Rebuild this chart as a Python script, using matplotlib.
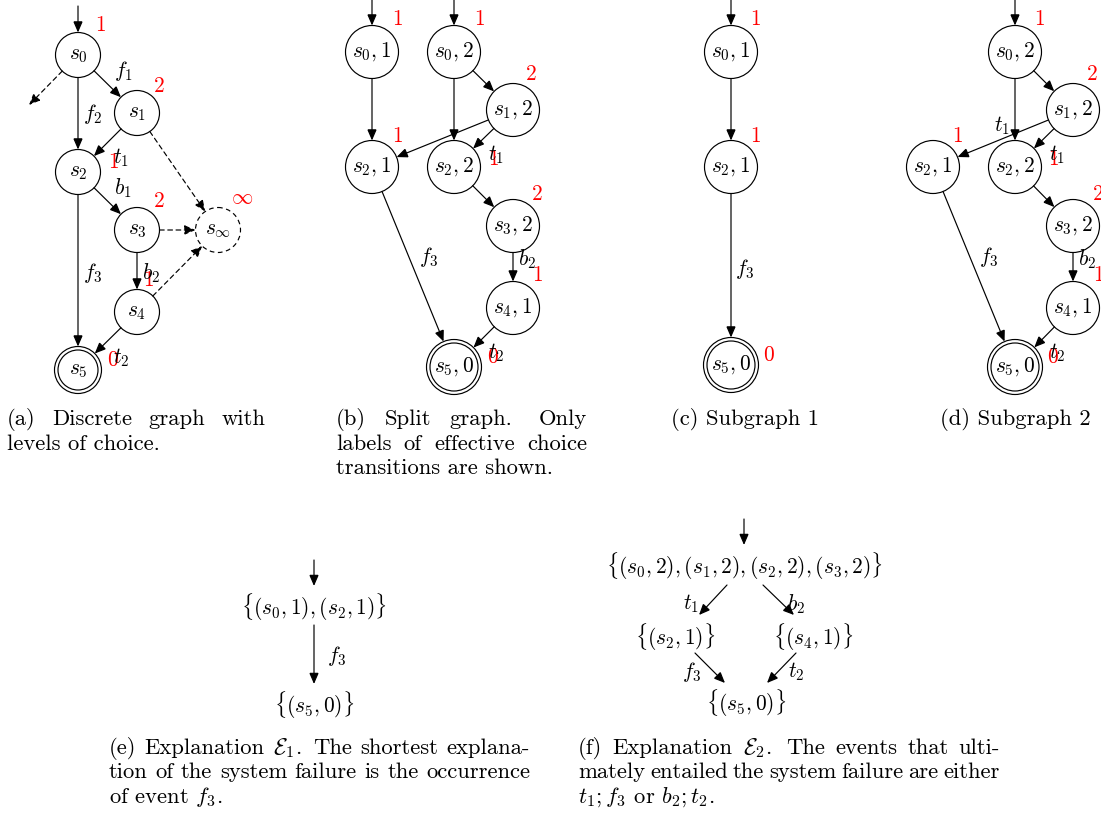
import matplotlib
matplotlib.use('Agg')
import matplotlib.pyplot as plt
from matplotlib.patches import Circle, FancyArrowPatch
import numpy as np

plt.rcParams['mathtext.fontset'] = 'cm'
plt.rcParams['font.family'] = ['cmr10', 'DejaVu Serif']
plt.rcParams['axes.unicode_minus'] = False

# ---------------- data ----------------
# (a) discrete graph
a_nodes = ['s0', 's1', 's2', 's3', 's4', 's5', 'sinf']
a_names = [r'$s_0$', r'$s_1$', r'$s_2$', r'$s_3$', r'$s_4$', r'$s_5$', r'$s_\infty$']
a_levels = ['1', '2', '1', '2', '1', '0', r'\infty']
a_edges = [('s0', 's1', 'f_1'), ('s0', 's2', 'f_2'), ('s1', 's2', 't_1'),
           ('s2', 's3', 'b_1'), ('s2', 's5', 'f_3'), ('s3', 's4', 'b_2'),
           ('s4', 's5', 't_2')]
a_dashed = [('s1', 'sinf'), ('s3', 'sinf'), ('s4', 'sinf')]

# (b) split graph
b_nodes = ['s01', 's02', 's12', 's21', 's22', 's32', 's41', 's50']
b_names = [r'$s_0,1$', r'$s_0,2$', r'$s_1,2$', r'$s_2,1$', r'$s_2,2$', r'$s_3,2$', r'$s_4,1$', r'$s_5,0$']
b_levels = ['1', '1', '2', '1', '1', '2', '1', '0']
b_edges = [('s01', 's21', ''), ('s02', 's22', ''), ('s02', 's12', ''), ('s12', 's21', ''),
           ('s12', 's22', 't_1'), ('s22', 's32', ''), ('s32', 's41', 'b_2'),
           ('s41', 's50', 't_2'), ('s21', 's50', 'f_3')]

# (c) subgraph 1
c_nodes = ['s01', 's21', 's50']
c_names = [r'$s_0,1$', r'$s_2,1$', r'$s_5,0$']
c_levels = ['1', '1', '0']
c_edges = [('s01', 's21', ''), ('s21', 's50', 'f_3')]

# (d) subgraph 2
d_nodes = ['s02', 's12', 's21', 's22', 's32', 's41', 's50']
d_names = [r'$s_0,2$', r'$s_1,2$', r'$s_2,1$', r'$s_2,2$', r'$s_3,2$', r'$s_4,1$', r'$s_5,0$']
d_levels = ['1', '2', '1', '1', '2', '1', '0']
d_edges = [('s02', 's22', ''), ('s02', 's12', ''), ('s12', 's21', 't_1'),
           ('s12', 's22', 't_1'), ('s22', 's32', ''), ('s32', 's41', 'b_2'),
           ('s41', 's50', 't_2'), ('s21', 's50', 'f_3')]

# (e), (f) explanations
e_sets = [r'$\{(s_0,1),(s_2,1)\}$', r'$\{(s_5,0)\}$']
e_events = ['f_3']
f_sets = [r'$\{(s_0,2),(s_1,2),(s_2,2),(s_3,2)\}$', r'$\{(s_2,1)\}$', r'$\{(s_4,1)\}$', r'$\{(s_5,0)\}$']
f_events = ['t_1', 'b_2', 'f_3', 't_2']

captions = {
    'a': [['(a)', 'Discrete', 'graph', 'with'], 'levels of choice.'],
    'b': [['(b)', 'Split', 'graph.', '', 'Only'], ['labels', 'of', 'effective', 'choice'], 'transitions are shown.'],
    'c': '(c) Subgraph 1',
    'd': '(d) Subgraph 2',
    'e': [['(e)', 'Explanation', r'$\mathcal{E}_1$.', '', 'The', 'shortest', 'explana-'],
          ['tion', 'of', 'the', 'system', 'failure', 'is', 'the', 'occurrence'],
          r'of event $f_3$.'],
    'f': [['(f)', 'Explanation', r'$\mathcal{E}_2$.', '', 'The', 'events', 'that', 'ulti-'],
          ['mately', 'entailed', 'the', 'system', 'failure', 'are', 'either'],
          r'$t_1; f_3$ or $b_2; t_2$.'],
}

# ---------------- layout ----------------
W, H = 1101, 815
fig = plt.figure(figsize=(W / 100, H / 100), dpi=100)
ax = fig.add_axes([0, 0, 1, 1])
ax.set_xlim(0, W)
ax.set_ylim(H, 0)
ax.axis('off')

FS = 15.4      # math / node text
FSC = 16.3     # caption text
LW = 0.85
RED = '#ff0000'


def arrow(p, q, dashed=False):
    a = FancyArrowPatch(p, q, arrowstyle='-|>,head_length=0.6,head_width=0.26',
                        mutation_scale=11, shrinkA=0, shrinkB=0, lw=LW, color='black',
                        linestyle=(0, (4, 3)) if dashed else '-', joinstyle='miter')
    ax.add_patch(a)


def node(c, r, label, final=False, dashed=False):
    ax.add_patch(Circle(c, r, fill=False, lw=LW, ec='black', linestyle=(0, (4, 3)) if dashed else '-'))
    if final:
        ax.add_patch(Circle(c, r - 3.5, fill=False, lw=LW, ec='black'))
    ax.text(c[0], c[1], label, fontsize=FS, ha='center', va='center')


def edge(pos, rad, u, v, dashed=False):
    p = np.array(pos[u], float)
    q = np.array(pos[v], float)
    d = (q - p) / np.linalg.norm(q - p)
    arrow(p + rad[u] * d, q - rad[v] * d, dashed)


def draw_graph(nodes, names, levels, edges, pos, r, final, lvl_pos, lbl_pos, initials):
    rad = {}
    for n in nodes:
        rad[n] = r + (1 if n == final else 0)
    for n, nm in zip(nodes, names):
        node(pos[n], rad[n], nm, final=(n == final), dashed=(n == 'sinf'))
    for n, lv in zip(nodes, levels):
        ax.text(lvl_pos[n][0], lvl_pos[n][1], '$' + lv + '$', color=RED, fontsize=FS,
                ha='center', va='center')
    for (u, v, lab) in edges:
        edge(pos, rad, u, v)
        if lab:
            for lp in lbl_pos.get((u, v), []):
                ax.text(lp[0], lp[1], '$' + lab + '$', fontsize=FS, ha='center', va='center')
    for n, y0 in initials:
        x, y = pos[n]
        arrow((x, y0), (x, y - rad[n]))
    return rad


# (a)
a_pos = {'s0': (78, 55), 's1': (137, 113), 's2': (78, 172), 's3': (137, 230),
         's4': (137, 312), 's5': (78, 370), 'sinf': (218, 230)}
a_lvl = {'s0': (100, 25), 's1': (159, 86), 's2': (113, 162), 's3': (159, 201),
         's4': (148, 280), 's5': (113, 360), 'sinf': (242, 198)}
a_lbl = {('s0', 's1'): [(123, 71)], ('s0', 's2'): [(93, 114)], ('s1', 's2'): [(121, 158)],
         ('s2', 's3'): [(123, 188)], ('s2', 's5'): [(93, 273)], ('s3', 's4'): [(151, 273)],
         ('s4', 's5'): [(121, 358)]}
rad_a = draw_graph(a_nodes, a_names, a_levels, a_edges, a_pos, 22.5, 's5', a_lvl, a_lbl, [('s0', 6)])
for u, v in a_dashed:
    edge(a_pos, rad_a, u, v, dashed=True)
# dangling dashed arrow from s0
p0 = np.array(a_pos['s0'], float)
tgt = np.array((29, 105), float)
dd = (tgt - p0) / np.linalg.norm(tgt - p0)
arrow(p0 + 22.5 * dd, tgt, dashed=True)

# (b)
b_pos = {'s01': (372, 52), 's02': (454, 52), 's12': (513, 110), 's21': (372, 167),
         's22': (454, 167), 's32': (513, 226), 's41': (513, 308), 's50': (454, 367)}
b_lvl = {'s01': (397, 19), 's02': (479, 19), 's12': (531, 74), 's21': (397, 136),
         's22': (493, 159), 's32': (537, 194), 's41': (537, 275), 's50': (493, 357)}
b_lbl = {('s12', 's22'): [(496, 155)], ('s32', 's41'): [(527, 259)],
         ('s41', 's50'): [(496, 353)], ('s21', 's50'): [(429, 257)]}
draw_graph(b_nodes, b_names, b_levels, b_edges, b_pos, 26.5, 's50', b_lvl, b_lbl,
           [('s01', 0), ('s02', 0)])

# (c)
c_pos = {'s01': (731, 52), 's21': (731, 167), 's50': (731, 365)}
c_lvl = {'s01': (755, 19), 's21': (755, 136), 's50': (769, 355)}
c_lbl = {('s21', 's50'): [(745, 269)]}
draw_graph(c_nodes, c_names, c_levels, c_edges, c_pos, 26.5, 's50', c_lvl, c_lbl, [('s01', 0)])

# (d)
d_pos = {'s02': (1015, 52), 's12': (1073, 110), 's21': (933, 167), 's22': (1015, 167),
         's32': (1073, 226), 's41': (1073, 308), 's50': (1015, 367)}
d_lvl = {'s02': (1039, 19), 's12': (1092, 74), 's21': (957, 136), 's22': (1053, 159),
         's32': (1098, 194), 's41': (1098, 275), 's50': (1053, 357)}
d_lbl = {('s12', 's21'): [(1002, 126)], ('s12', 's22'): [(1057, 155)],
         ('s32', 's41'): [(1087, 259)], ('s41', 's50'): [(1057, 353)], ('s21', 's50'): [(989, 257)]}
draw_graph(d_nodes, d_names, d_levels, d_edges, d_pos, 26.5, 's50', d_lvl, d_lbl, [('s02', 0)])

# (e)
e_pos = [(314, 607), (314, 705)]
for (x, y), s in zip(e_pos, e_sets):
    ax.text(x, y, s, fontsize=FS, ha='center', va='center')
arrow((314, 560), (314, 586))
arrow((314, 625), (314, 684))
ax.text(337, 656, '$' + e_events[0] + '$', fontsize=FS, ha='center', va='center')

# (f)
f_pos = [(744, 566), (675, 637), (813, 637), (746, 703)]
for (x, y), s in zip(f_pos, f_sets):
    ax.text(x, y, s, fontsize=FS, ha='center', va='center')
arrow((744, 519), (744, 545))
f_arrows = [((727, 585), (699, 615)), ((763, 585), (794, 615)),
            ((695, 653), (725, 683)), ((796, 653), (767, 683))]
f_lbl = [(691, 604), (796, 604), (692, 672), (796, 672)]
for (p, q) in f_arrows:
    arrow(p, q)
for (x, y), lab in zip(f_lbl, f_events):
    ax.text(x, y, '$' + lab + '$', fontsize=FS, ha='center', va='center')

# ---------------- captions ----------------
renderer = fig.canvas.get_renderer()


def justify(words, x0, x1, y):
    # an empty word marks an extra (sentence) space
    items = []
    extra = 0
    for w in words:
        if w == '':
            extra += 1
            continue
        t = ax.text(0, y, w, fontsize=FSC, ha='left', va='baseline')
        items.append((t, t.get_window_extent(renderer=renderer).width, extra))
        extra = 0
    weights = [1 + 0.45 * e for (_, _, e) in items[1:]]
    gap = (x1 - x0 - sum(w for _, w, _ in items)) / sum(weights)
    x = x0
    for i, (t, w, e) in enumerate(items):
        if i > 0:
            x += gap * weights[i - 1]
        t.set_x(x)
        x += w


def caption(lines, x0, x1, y0, dy=24.5):
    for i, ln in enumerate(lines):
        y = y0 + i * dy
        if isinstance(ln, list):
            justify(ln, x0, x1, y)
        else:
            ax.text(x0, y, ln, fontsize=FSC, ha='left', va='baseline')


caption(captions['a'], 7, 265, 425)
caption(captions['b'], 336, 587, 425)
ax.text(745, 425, captions['c'], fontsize=FSC, ha='center', va='baseline')
ax.text(1015, 425, captions['d'], fontsize=FSC, ha='center', va='baseline')
caption(captions['e'], 109, 530, 754)
caption(captions['f'], 578, 1000, 754)

fig.savefig('out.png', dpi=100)
